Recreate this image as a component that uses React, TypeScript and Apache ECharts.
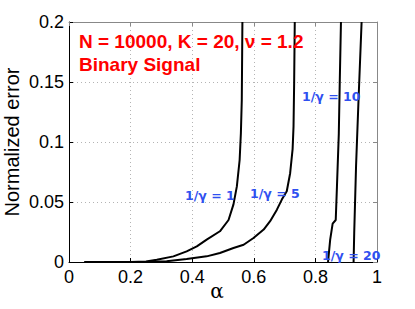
import React, { useEffect, useRef } from "react";
import * as echarts from "echarts";

const xTicks = [0, 0.2, 0.4, 0.6, 0.8, 1];
const yTicks = [0, 0.05, 0.1, 0.15, 0.2];

const curveG1: [number, number][] = [
  [0.05, 0], [0.2, 0], [0.25, 0.0005], [0.285, 0.0018], [0.339, 0.0047], [0.382, 0.0089],
  [0.415, 0.013], [0.447, 0.0186], [0.49, 0.0256], [0.518, 0.035], [0.534, 0.048],
  [0.545, 0.063], [0.554, 0.085], [0.558, 0.107], [0.561, 0.135], [0.563, 0.2],
];
const curveG5: [number, number][] = [
  [0.05, 0], [0.25, 0], [0.317, 0.0006], [0.382, 0.0025], [0.447, 0.0047], [0.49, 0.0075],
  [0.534, 0.0117], [0.567, 0.0144], [0.599, 0.02], [0.632, 0.027], [0.653, 0.034],
  [0.675, 0.0436], [0.691, 0.052], [0.707, 0.059], [0.718, 0.074], [0.726, 0.094],
  [0.729, 0.113], [0.731, 0.149], [0.733, 0.2],
];
const curveG10: [number, number][] = [
  [0.841, 0], [0.848, 0.0186], [0.856, 0.032], [0.866, 0.035], [0.87, 0.063],
  [0.876, 0.107], [0.879, 0.149], [0.883, 0.2],
];
const curveG20: [number, number][] = [
  [0.924, 0], [0.926, 0.024], [0.932, 0.08], [0.94, 0.135], [0.95, 0.2],
];

const curveLabels = ["1/γ = 1", "1/γ = 5", "1/γ = 10", "1/γ = 20"];
const titleLines = ["N = 10000, K = 20, ν = 1.2", "Binary Signal"];

const FONT = "Liberation Sans, Arial, Helvetica, sans-serif";

export default function App() {
  const ref = useRef<HTMLDivElement>(null);
  useEffect(() => {
    document.body.style.margin = "0";
    const chart = echarts.init(ref.current!, null, { renderer: "svg" });
    const lineSeries = (data: [number, number][]) => ({
      type: "line",
      data,
      symbol: "none",
      lineStyle: { color: "#000", width: 2 },
      xAxisIndex: 0,
      yAxisIndex: 0,
      z: 3,
    });
    const blue = "#2f50f0";
    const labelPos = [
      [185, 195],
      [250, 193],
      [302, 96],
      [322, 255],
    ];
    chart.setOption({
      animation: false,
      backgroundColor: "#fff",
      grid: {
        left: 69,
        right: 38,
        top: 22,
        bottom: 47,
        containLabel: false,
        outerBoundsMode: "none",
      },
      xAxis: [
        {
          type: "value",
          min: xTicks[0],
          max: xTicks[xTicks.length - 1],
          interval: 0.2,
          position: "bottom",
          name: "α",
          nameLocation: "middle",
          nameGap: 19,
          nameMoveOverlap: false,
          nameTextStyle: {
            fontFamily: "DejaVu Serif, serif",
            fontSize: 20,
            color: "#000",
            padding: [0, 12, 0, 0],
          },
          axisLine: { show: true, onZero: false, lineStyle: { color: "#000", width: 1 } },
          axisTick: { show: true, inside: true, length: 4, lineStyle: { color: "#000" } },
          axisLabel: { fontFamily: FONT, fontSize: 18, color: "#000", margin: 6 },
          splitLine: { show: true, lineStyle: { color: "#b4b4b4", type: [1, 3], width: 1 } },
        },
        {
          type: "value",
          min: 0,
          max: 1,
          interval: 0.2,
          position: "top",
          axisLine: { show: true, onZero: false, lineStyle: { color: "#888", width: 1 } },
          axisTick: { show: true, inside: true, length: 4, lineStyle: { color: "#888" } },
          axisLabel: { show: false },
          splitLine: { show: false },
        },
      ],
      yAxis: [
        {
          type: "value",
          min: yTicks[0],
          max: yTicks[yTicks.length - 1],
          interval: 0.05,
          position: "left",
          name: "Normalized error",
          nameLocation: "middle",
          nameGap: 47,
          nameMoveOverlap: false,
          nameTextStyle: { fontFamily: FONT, fontSize: 20, color: "#000" },
          axisLine: { show: true, onZero: false, lineStyle: { color: "#000", width: 1 } },
          axisTick: { show: true, inside: true, length: 4, lineStyle: { color: "#000" } },
          axisLabel: { fontFamily: FONT, fontSize: 18, color: "#000", margin: 5 },
          splitLine: { show: true, lineStyle: { color: "#b4b4b4", type: [1, 3], width: 1 } },
        },
        {
          type: "value",
          min: 0,
          max: 0.2,
          interval: 0.05,
          position: "right",
          axisLine: { show: true, onZero: false, lineStyle: { color: "#888", width: 1 } },
          axisTick: { show: true, inside: true, length: 4, lineStyle: { color: "#888" } },
          axisLabel: { show: false },
          splitLine: { show: false },
        },
      ],
      series: [
        lineSeries(curveG1),
        lineSeries(curveG5),
        lineSeries(curveG10),
        lineSeries(curveG20),
      ],
      graphic: [
        {
          type: "text",
          left: 79,
          top: 32,
          z: 10,
          style: {
            text: titleLines[0],
            fill: "#ff0000",
            fontWeight: "bold",
            fontSize: 19,
            fontFamily: FONT,
          },
        },
        {
          type: "text",
          left: 79,
          top: 55,
          z: 10,
          style: {
            text: titleLines[1],
            fill: "#ff0000",
            fontWeight: "bold",
            fontSize: 19,
            fontFamily: FONT,
          },
        },
        ...curveLabels.map((t, i) => ({
          type: "text",
          x: labelPos[i][0],
          y: labelPos[i][1],
          z: 10,
          style: {
            text: t,
            fill: blue,
            fontWeight: "bold",
            fontSize: 12.5,
            fontFamily: "DejaVu Sans, sans-serif",
            verticalAlign: "middle",
          },
        })),
      ],
    });
    return () => chart.dispose();
  }, []);
  return <div ref={ref} style={{ width: 415, height: 309 }} />;
}
